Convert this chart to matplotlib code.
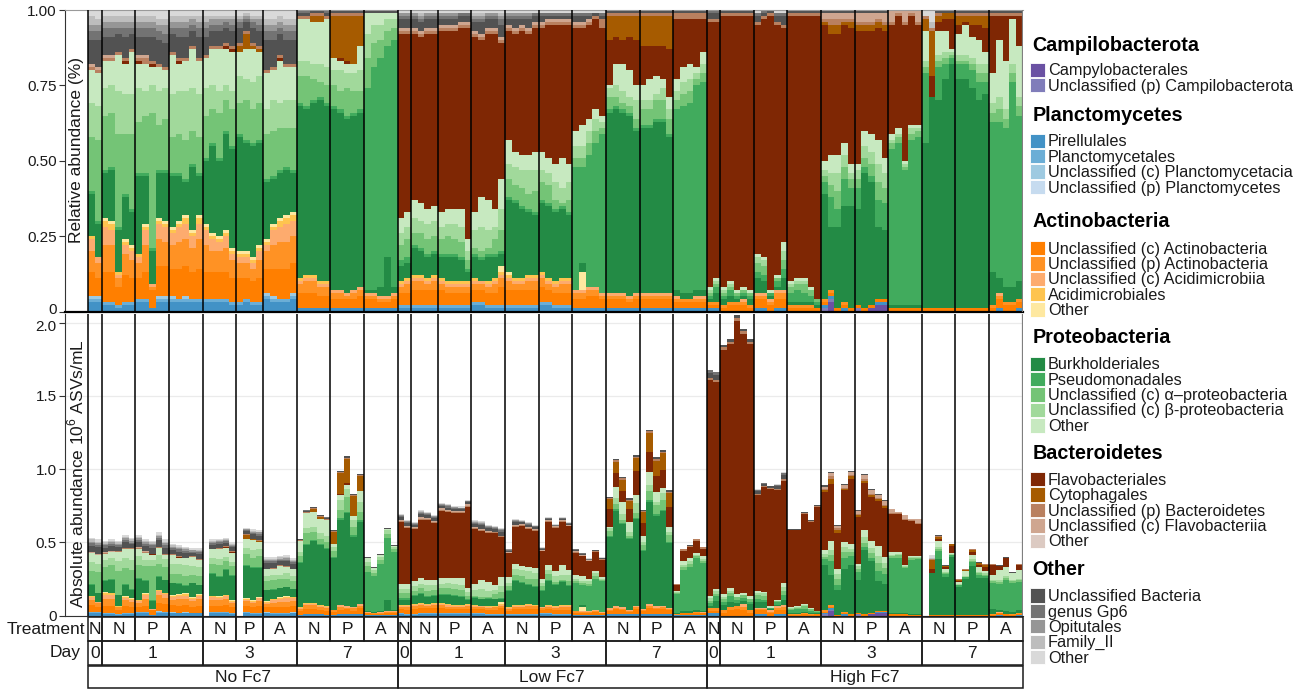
import numpy as np
import matplotlib
matplotlib.use('Agg')
import matplotlib.pyplot as plt
import matplotlib.transforms as mtransforms
from matplotlib.patches import Rectangle

plt.rcParams['font.family'] = ['Liberation Sans', 'DejaVu Sans']
plt.rcParams['mathtext.fontset'] = 'custom'
plt.rcParams['mathtext.rm'] = 'Liberation Sans'

# taxa by phylum, stacking order bottom -> top
phyla = ['Campilobacterota', 'Planctomycetes', 'Actinobacteria',
         'Proteobacteria', 'Bacteroidetes', 'Other']
taxa = [
    ['Campylobacterales', 'Unclassified (p) Campilobacterota'],
    ['Pirellulales', 'Planctomycetales', 'Unclassified (c) Planctomycetacia',
     'Unclassified (p) Planctomycetes'],
    ['Unclassified (c) Actinobacteria', 'Unclassified (p) Actinobacteria',
     'Unclassified (c) Acidimicrobiia', 'Acidimicrobiales', 'Other'],
    ['Burkholderiales', 'Pseudomonadales', 'Unclassified (c) \u03b1\u2013proteobacteria',
     'Unclassified (c) \u03b2-proteobacteria', 'Other'],
    ['Flavobacteriales', 'Cytophagales', 'Unclassified (p) Bacteroidetes',
     'Unclassified (c) Flavobacteriia', 'Other'],
    ['Unclassified Bacteria', 'genus Gp6', 'Opitutales', 'Family_II', 'Other'],
]
colors = [
    ['#6a51a3', '#807dba'],
    ['#4292c6', '#6baed6', '#9ecae1', '#c6dbef'],
    ['#ff7f00', '#ff9224', '#fdab6e', '#fec44f', '#fee8a0'],
    ['#238b45', '#41ab5d', '#74c476', '#a1d99b', '#c7e9c0'],
    ['#7f2704', '#a65b00', '#b9805f', '#cfa690', '#dccac2'],
    ['#525252', '#737373', '#969696', '#bdbdbd', '#d9d9d9'],
]

groups = ['No Fc7', 'Low Fc7', 'High Fc7']
treatments = ['N', 'N', 'P', 'A', 'N', 'P', 'A', 'N', 'P', 'A']
days = ['0', '1', '3', '7']
day_panels = [1, 3, 3, 3]

# relative abundance (%) per sample, columns follow the taxa order above
rel_no = [
    [[0,0,3,1,1,0,8,7,4,1,0,14,1,18,11,11,0,0,1,1,0,8,3,2,3,2],
     [0,0,3,1,1,0,6,5,2,0,0,11,1,27,11,11,0,0,1,1,0,9,3,2,2,3]],
    [[0,0,2,1,0,0,10,9,6,2,1,15,1,18,9,9,0,0,1,1,0,6,3,2,2,2],
     [0,0,2,1,0,0,10,9,5,2,1,17,1,18,9,8,0,0,1,1,0,6,3,2,2,2],
     [0,0,1,1,0,0,6,3,1,1,0,14,1,31,14,12,0,0,1,0,0,6,2,2,2,2],
     [0,0,2,1,0,0,9,7,3,1,1,14,1,20,13,10,1,0,1,0,0,7,3,2,2,2],
     [0,0,2,1,0,0,8,6,3,1,1,11,1,25,13,14,0,0,1,0,0,5,2,2,2,2]],
    [[0,0,3,1,0,0,7,5,2,1,0,26,1,17,11,8,1,0,1,1,0,6,3,2,2,2],
     [0,0,3,1,0,0,9,9,5,1,1,16,1,19,8,9,0,0,2,1,0,6,3,2,2,2],
     [0,0,1,0,0,0,6,1,1,0,0,11,1,45,9,6,1,0,1,0,0,8,3,2,2,2],
     [0,0,3,1,1,0,10,9,5,1,1,15,1,15,11,8,0,0,1,0,0,8,3,2,2,3],
     [0,0,3,1,1,0,10,8,5,1,1,16,1,17,10,6,0,0,1,0,0,8,3,3,2,3]],
    [[0,0,3,1,1,0,9,8,4,1,1,17,1,12,14,13,0,0,1,0,0,6,2,2,2,2],
     [0,0,3,1,0,0,10,9,5,1,1,15,1,13,14,9,1,0,1,0,0,7,3,2,2,2],
     [0,0,3,1,1,0,10,9,5,2,1,11,1,13,16,10,0,0,1,0,0,7,3,2,2,2],
     [0,0,3,1,0,0,9,8,4,1,1,21,1,11,14,13,0,0,1,0,0,5,2,2,1,2],
     [0,0,3,1,0,0,10,10,5,2,1,13,1,12,14,11,0,0,1,0,0,7,3,2,2,2]],
    [[0,0,3,1,0,0,9,9,5,1,1,21,1,14,9,10,0,0,1,0,0,6,3,2,2,2],
     [0,0,3,1,0,0,9,7,4,1,1,29,1,11,8,12,0,0,1,0,0,5,2,2,1,2],
     [0,0,3,1,0,0,9,7,3,1,1,25,1,15,7,14,0,0,1,0,0,5,2,2,1,2],
     [0,0,3,1,0,0,9,8,4,1,1,32,1,10,5,12,1,0,1,0,0,5,2,1,1,2],
     [0,0,2,1,0,0,8,6,2,1,1,33,1,12,6,13,1,0,1,0,0,5,2,2,1,2]],
    [[0,0,2,1,0,0,8,5,2,1,1,38,1,10,9,8,0,2,1,0,0,5,2,1,1,2],
     [0,0,3,1,0,0,7,5,2,1,1,36,1,13,7,10,0,5,1,0,0,3,1,1,1,1],
     [0,0,2,1,0,0,7,4,2,1,1,37,1,11,9,11,0,1,1,0,0,5,2,1,1,2],
     [0,0,2,1,0,0,8,6,3,1,1,34,1,12,9,8,0,1,1,0,0,5,2,2,1,2]],
    [[0,0,4,1,1,0,8,6,2,1,1,19,1,15,8,12,0,0,1,0,0,10,3,2,2,3],
     [0,0,3,1,1,0,9,8,5,1,1,15,1,15,10,10,0,0,1,0,0,9,3,2,2,3],
     [0,0,3,1,0,0,10,9,5,2,1,15,1,14,8,14,1,0,1,0,0,7,2,2,2,2],
     [0,0,3,1,0,0,10,9,6,2,1,15,1,13,9,11,0,0,1,0,0,8,3,2,2,3],
     [0,0,4,1,1,0,10,9,5,2,1,13,1,14,9,11,0,0,1,0,0,8,3,2,2,3]],
    [[0,0,1,0,0,0,5,3,1,1,0,57,1,9,5,14,0,0,1,0,0,1,1,0,0,0],
     [0,0,1,0,0,0,5,4,1,1,0,55,1,10,5,14,0,0,1,0,0,1,1,0,0,0],
     [0,0,1,0,0,0,5,4,1,1,0,57,1,7,5,14,0,2,1,0,0,1,0,0,0,0],
     [0,0,1,0,0,0,4,3,1,1,0,60,1,5,6,14,0,2,1,0,0,1,0,0,0,0],
     [0,0,1,0,0,0,4,3,1,1,0,58,1,6,6,16,0,0,1,0,0,1,1,0,0,0]],
    [[0,0,1,0,0,0,3,2,1,0,0,60,1,7,5,4,0,14,1,0,0,1,0,0,0,0],
     [0,0,1,0,0,0,3,2,1,0,0,59,1,6,7,3,1,14,1,0,0,1,0,0,0,0],
     [0,0,1,0,0,0,3,1,1,0,0,58,1,9,5,3,1,15,1,0,0,1,0,0,0,0],
     [0,0,1,0,0,0,3,2,1,0,0,58,1,7,6,3,0,16,1,0,0,1,0,0,0,0],
     [0,0,1,0,0,0,4,2,1,0,0,58,1,6,7,8,0,10,1,0,0,1,0,0,0,0]],
    [[0,0,1,0,0,0,3,1,1,0,0,1,67,10,8,7,0,0,0,0,0,1,0,0,0,0],
     [0,0,1,0,0,0,3,1,1,0,0,1,74,8,6,4,0,0,0,0,0,1,0,0,0,0],
     [0,0,1,0,0,0,2,1,1,0,0,3,76,6,5,4,0,0,0,0,0,1,0,0,0,0],
     [0,0,1,0,0,0,2,1,1,0,0,13,70,5,4,2,0,0,0,0,0,1,0,0,0,0],
     [0,0,1,0,0,0,3,1,1,0,0,2,82,4,3,2,0,0,0,0,0,1,0,0,0,0]],
]
rel_low = [
    [[0,0,1,1,0,0,4,2,1,1,0,5,2,5,4,5,61,0,1,1,0,3,1,1,0,1],
     [0,0,1,1,0,0,4,3,1,1,0,5,2,6,4,5,59,0,1,1,0,3,1,1,0,1]],
    [[0,0,1,1,0,0,5,3,1,1,0,9,1,4,5,6,55,0,1,1,0,3,1,1,0,1],
     [0,0,1,1,0,0,5,3,1,1,0,8,1,5,4,6,55,0,1,1,0,3,1,1,1,1],
     [0,0,1,1,0,0,5,2,1,1,0,7,1,5,5,5,58,0,1,1,0,3,1,1,0,1],
     [0,0,1,1,0,0,5,3,1,1,0,7,1,5,5,5,57,0,1,1,0,3,1,1,0,1]],
    [[0,0,1,1,0,0,5,2,1,1,0,7,1,5,4,5,60,0,1,1,0,2,1,1,0,1],
     [0,0,1,1,0,0,4,2,1,1,0,8,1,6,4,5,59,0,1,1,0,2,1,1,0,1],
     [0,0,1,1,0,0,4,2,1,1,0,8,1,5,5,5,59,0,1,1,0,2,1,1,0,1],
     [0,0,1,1,0,0,4,2,1,1,0,7,1,5,5,6,60,0,1,1,0,2,1,0,0,1],
     [0,0,1,1,0,0,4,2,1,1,0,3,1,3,3,4,70,0,1,1,0,2,1,0,0,1]],
    [[0,0,2,1,0,0,4,2,1,1,0,7,1,2,6,6,58,0,1,1,0,3,1,1,1,1],
     [0,0,2,1,0,0,4,2,1,0,0,7,1,2,8,10,52,0,1,1,0,4,1,1,1,1],
     [0,0,1,1,0,0,4,2,1,1,0,8,1,2,6,10,55,0,1,1,0,3,1,1,0,1],
     [0,0,1,1,0,0,4,3,1,1,0,7,1,5,4,6,58,0,1,1,0,3,1,1,0,1],
     [0,0,1,1,0,0,6,3,1,1,2,4,1,7,7,10,45,0,1,1,0,4,2,1,1,1]],
    [[0,0,1,1,0,0,5,3,1,1,1,24,1,6,5,8,36,0,1,1,0,2,1,1,0,1],
     [0,0,1,1,0,0,5,2,1,1,0,25,1,5,6,5,39,0,1,1,0,3,1,1,0,1],
     [0,0,1,1,0,0,5,2,1,1,0,23,1,6,6,5,41,0,1,1,0,2,1,1,0,1],
     [0,0,1,1,0,0,5,3,1,1,0,21,1,5,8,5,40,0,1,1,0,3,1,1,0,1],
     [0,0,1,1,0,0,5,3,1,1,0,20,1,7,7,6,41,0,1,1,0,2,1,0,0,1]],
    [[0,0,2,1,0,0,5,3,1,1,0,23,1,6,4,6,41,0,1,1,0,2,1,0,0,1],
     [0,0,2,1,0,0,4,2,1,1,0,24,1,6,4,5,44,0,1,1,0,1,1,0,0,1],
     [0,0,1,1,0,0,4,2,1,1,0,23,1,3,6,6,46,0,1,1,0,1,1,0,0,1],
     [0,0,1,1,0,0,4,3,1,1,0,23,1,1,5,10,44,0,1,1,0,1,1,0,0,1],
     [0,0,1,1,0,0,4,3,1,1,0,21,1,4,6,6,46,0,1,1,0,1,1,0,0,1]],
    [[0,0,1,0,0,0,3,2,1,0,0,0,41,3,4,5,34,0,1,1,0,2,1,0,0,1],
     [0,0,1,0,0,0,3,2,1,0,6,3,32,3,4,7,32,0,1,1,0,2,1,0,0,1],
     [0,0,1,0,0,0,4,2,1,0,0,0,44,4,4,4,31,0,1,1,0,1,1,0,0,1],
     [0,0,1,0,0,0,4,2,1,0,0,0,48,4,4,3,30,0,1,0,0,1,0,0,0,1],
     [0,0,1,0,0,0,3,1,1,0,0,0,53,2,2,2,29,0,3,0,0,1,1,0,0,1]],
    [[0,0,1,0,0,0,3,1,1,0,0,60,1,4,3,1,15,8,1,0,0,1,0,0,0,0],
     [0,0,1,0,0,0,3,1,1,0,0,61,1,3,4,7,9,7,1,0,0,1,0,0,0,0],
     [0,0,1,0,0,0,3,1,1,0,0,60,1,2,4,9,8,8,1,0,0,1,0,0,0,0],
     [0,0,1,0,0,0,2,1,1,0,0,60,1,2,3,9,11,7,1,0,0,1,0,0,0,0],
     [0,0,1,0,0,0,3,1,1,0,0,54,1,3,6,5,15,8,1,0,0,1,0,0,0,0]],
    [[0,0,1,0,0,0,3,1,1,0,0,55,1,5,3,5,13,10,1,0,0,1,0,0,0,0],
     [0,0,1,0,0,0,3,1,1,0,0,55,1,5,3,7,11,10,1,0,0,1,0,0,0,0],
     [0,0,1,0,0,0,3,1,1,0,0,57,1,6,2,6,10,10,1,0,0,1,0,0,0,0],
     [0,0,1,0,0,0,3,1,1,0,0,57,1,6,4,3,11,10,1,0,0,1,0,0,0,0],
     [0,0,1,0,0,0,3,1,1,0,0,52,1,5,3,4,16,11,1,0,0,1,0,0,0,0]],
    [[0,0,1,0,0,0,2,1,1,0,0,2,60,3,3,4,20,0,2,0,0,1,0,0,0,0],
     [0,0,1,0,0,0,2,1,0,0,0,2,62,4,4,5,16,0,2,0,0,1,0,0,0,0],
     [0,0,1,0,0,0,2,1,0,0,0,2,63,4,4,5,15,0,2,0,0,1,0,0,0,0],
     [0,0,1,0,0,0,2,1,1,0,0,2,68,2,2,2,16,0,2,0,0,1,0,0,0,0],
     [0,0,1,0,0,0,2,1,1,0,0,2,69,3,3,4,11,0,2,0,0,1,0,0,0,0]],
]
rel_high = [
    [[0,0,1,0,0,0,1,1,0,0,0,1,1,1,1,1,88,0,1,0,0,2,1,0,0,0],
     [0,0,1,0,0,0,1,1,0,0,0,3,2,1,1,1,85,0,1,0,0,2,1,0,0,0]],
    [[0,0,0,0,0,0,1,1,0,0,0,2,1,1,1,1,90,0,1,0,0,1,0,0,0,0],
     [0,0,0,0,0,0,2,1,0,0,0,2,2,1,1,1,88,0,1,0,0,1,0,0,0,0],
     [0,0,0,0,0,0,2,1,0,0,0,1,1,1,0,1,91,0,1,0,0,1,0,0,0,0],
     [0,0,0,0,0,0,2,1,1,0,0,1,1,1,0,1,90,0,1,0,0,1,0,0,0,0],
     [0,0,0,0,0,0,1,1,0,0,0,2,1,1,0,1,91,0,1,0,0,1,0,0,0,0]],
    [[0,0,1,0,0,0,3,1,1,0,0,5,2,3,2,1,76,0,1,0,0,2,1,0,0,1],
     [0,0,1,0,0,0,3,1,1,0,0,4,2,3,2,1,79,0,1,0,0,1,1,0,0,0],
     [0,0,0,0,0,0,2,1,1,0,0,1,1,0,0,1,91,0,1,0,0,1,0,0,0,0],
     [0,0,1,0,0,0,3,2,1,0,0,1,2,1,0,1,83,0,1,0,0,2,1,0,0,1],
     [0,0,1,0,0,0,3,2,1,0,0,4,3,3,3,3,71,0,1,0,0,3,1,0,0,1]],
    [[0,0,0,0,0,0,1,1,0,0,0,1,3,2,1,1,88,0,1,0,0,1,0,0,0,0],
     [0,0,0,0,0,0,1,1,0,0,0,1,4,2,1,1,87,0,1,0,0,1,0,0,0,0],
     [0,0,0,0,0,0,1,1,0,0,0,1,3,3,1,1,87,0,1,0,0,1,0,0,0,0],
     [0,0,0,0,0,0,1,1,0,0,0,1,2,2,0,1,90,0,1,0,0,1,0,0,0,0],
     [0,0,0,0,0,0,1,0,0,0,0,1,1,1,0,0,94,0,1,0,0,1,0,0,0,0]],
    [[0,1,1,0,0,0,1,1,0,0,0,35,4,2,2,3,45,1,1,2,0,1,0,0,0,0],
     [3,1,1,0,0,0,1,1,0,0,0,21,10,4,4,6,40,3,2,2,0,1,0,0,0,0],
     [0,0,0,0,0,0,1,0,0,0,0,27,6,6,6,6,40,3,2,2,0,1,0,0,0,0],
     [0,0,1,0,0,0,1,1,0,0,0,32,9,4,4,4,39,1,1,2,0,1,0,0,0,0],
     [0,0,0,0,0,0,1,0,0,0,0,34,6,3,2,3,45,2,1,2,0,1,0,0,0,0]],
    [[0,1,0,0,0,0,1,0,0,0,0,32,7,3,3,2,44,2,1,3,0,1,0,0,0,0],
     [0,0,0,0,0,0,1,0,0,0,0,45,2,3,4,5,33,2,1,3,0,1,0,0,0,0],
     [1,0,0,0,0,0,1,0,0,0,0,41,2,4,4,6,34,2,1,3,0,1,0,0,0,0],
     [2,0,1,0,0,0,1,0,0,0,0,24,9,6,6,8,37,2,1,2,0,1,0,0,0,0],
     [2,0,1,0,0,0,1,0,0,0,0,23,9,5,5,5,42,2,1,3,0,1,0,0,0,0]],
    [[0,0,0,0,0,0,1,0,0,0,0,1,52,2,1,2,36,0,1,4,0,0,0,0,0,0],
     [0,0,0,0,0,0,1,0,0,0,0,1,54,2,1,2,37,0,1,1,0,0,0,0,0,0],
     [0,0,0,0,0,0,1,0,0,0,0,1,45,1,1,1,45,0,1,4,0,0,0,0,0,0],
     [0,0,0,0,0,0,1,0,0,0,0,1,55,2,2,1,36,0,1,1,0,0,0,0,0,0],
     [0,0,0,0,0,0,1,0,0,0,0,1,56,2,1,1,33,0,1,4,0,0,0,0,0,0]],
    [[0,0,0,0,0,0,1,0,0,0,0,55,23,2,2,10,0,4,1,0,0,0,0,0,0,2],
     [0,0,0,0,0,0,1,0,0,0,0,70,0,0,0,0,7,15,1,0,0,0,0,0,2,4],
     [0,0,0,0,0,0,1,0,0,0,0,69,11,2,2,8,3,2,1,0,0,1,0,0,0,0],
     [0,0,0,0,0,0,1,0,0,0,0,76,5,2,2,7,4,2,0,0,0,1,0,0,0,0],
     [0,0,0,0,0,0,1,0,0,0,0,81,2,1,1,1,10,2,0,0,0,1,0,0,0,0]],
    [[0,0,0,0,0,0,1,0,0,0,0,76,5,1,2,7,3,3,1,0,0,1,0,0,0,0],
     [0,0,0,0,0,0,1,0,0,0,0,76,5,1,2,10,1,2,1,0,0,1,0,0,0,0],
     [0,0,0,0,0,0,1,0,0,0,0,73,6,2,2,7,4,3,1,0,0,1,0,0,0,0],
     [0,0,0,0,0,0,1,0,0,0,0,69,6,3,3,8,5,3,1,0,0,1,0,0,0,0],
     [0,0,0,0,0,0,1,0,0,0,0,71,4,3,3,4,8,4,1,0,0,1,0,0,0,0]],
    [[0,0,0,0,0,0,1,1,0,0,0,11,50,3,3,10,19,0,1,0,0,1,0,0,0,0],
     [0,0,1,0,0,0,3,1,1,0,0,5,52,4,4,19,8,0,1,0,0,1,0,0,0,0],
     [0,0,0,0,0,0,2,1,0,0,0,5,53,3,3,16,15,0,1,0,0,1,0,0,0,0],
     [0,0,0,0,0,0,2,1,0,0,0,5,68,3,3,15,1,0,1,0,0,1,0,0,0,0],
     [0,0,1,0,0,0,2,1,0,0,0,6,55,3,3,17,10,0,1,0,0,1,0,0,0,0]],
]

# total abundance, 10^6 ASVs/mL (nan = not quantified)
nan = np.nan
tot_no = [[0.53, 0.52], [0.51, 0.52, 0.51, 0.55, 0.53], [0.55, 0.52, 0.51, 0.57, 0.52],
          [0.49, 0.48, 0.47, 0.46, 0.46], [nan, 0.52, 0.525, 0.53, 0.50],
          [nan, 0.60, 0.59, 0.585], [0.40, 0.40, 0.405, 0.41, 0.39],
          [0.525, 0.72, 0.74, 0.685, 0.67], [0.585, 0.99, 1.09, 0.83, 0.97],
          [0.40, 0.33, 0.42, 0.60, 0.48]]
tot_low = [[0.695, 0.65], [0.64, 0.72, 0.71, 0.685], [0.77, 0.76, 0.75, 0.745, 0.79],
           [0.65, 0.645, 0.615, 0.61, 0.60], [0.456, 0.66, 0.655, 0.64, 0.615],
           [0.467, 0.67, 0.627, 0.67, 0.64], [0.456, 0.43, 0.39, 0.45, 0.40],
           [0.81, 1.07, 0.946, 0.80, 1.095], [0.72, 1.27, 1.08, 1.13, 0.855],
           [0.217, 0.456, 0.48, 0.525, 0.47]]
tot_high = [[1.676, 1.66], [1.85, 1.89, 2.05, 1.96, 1.89], [0.867, 0.905, 0.883, 0.90, 0.98],
            [0.593, 0.593, 0.707, 0.65, 0.753], [0.89, 0.98, 0.616, 0.90, 0.99],
            [0.72, 0.97, 0.867, 0.83, 0.787], [0.73, 0.707, 0.684, 0.66, 0.66],
            [nan, 0.41, 0.547, 0.342, 0.49], [0.25, 0.32, 0.456, 0.365, 0.354],
            [0.354, 0.342, 0.40, 0.296, 0.354]]

# flatten panels into one sample axis
rel_rows, totals, counts = [], [], []
for rel_g, tot_g in [(rel_no, tot_no), (rel_low, tot_low), (rel_high, tot_high)]:
    for rp, tp in zip(rel_g, tot_g):
        rel_rows += rp
        totals += tp
        counts.append(len(rp))
rel = np.array(rel_rows, dtype=float)
rel = rel / rel.sum(axis=1, keepdims=True)
totals = np.array(totals)
absval = rel * np.nan_to_num(totals)[:, None]
flat_colors = [c for cs in colors for c in cs]
n = len(rel)
x = np.arange(n)
edges = np.concatenate([[0], np.cumsum(counts)])

# layout in pixels
W, H = 1306, 689
fig = plt.figure(figsize=(W / 100, H / 100), dpi=100)


def px_axes(x0, y0, x1, y1):
    return fig.add_axes([x0 / W, 1 - y1 / H, (x1 - x0) / W, (y1 - y0) / H])


X_AXIS, X_PANEL, X_RIGHT = 65.0, 88.3, 1022.7
x_lo = -(X_PANEL - X_AXIS) / ((X_RIGHT - X_PANEL) / n)

ax_rel = px_axes(X_AXIS, 10, X_RIGHT, 311.5)
ax_abs = px_axes(X_AXIS, 313.5, X_RIGHT, 615.5)


def stack(ax, vals):
    bottom = np.zeros(n)
    for j, col in enumerate(flat_colors):
        ax.bar(x, vals[:, j], bottom=bottom, width=1.0, align='edge',
               color=col, linewidth=0, antialiased=False, zorder=2)
        bottom += vals[:, j]


stack(ax_rel, rel)
stack(ax_abs, absval)

for ax in (ax_rel, ax_abs):
    ax.set_xlim(x_lo, n)
    ax.set_xticks([])
    for e in edges[:-1]:
        ax.axvline(e, color='black', lw=1.1, zorder=4)
    ax.axvline(n, color='#7f7f7f', lw=1.6, zorder=4)
    ax.spines['right'].set_visible(False)
    ax.spines['left'].set_color('#333333')
    ax.tick_params(axis='y', length=4, width=0.8, color='#333333',
                   labelsize=11, labelcolor='#1a1a1a', pad=2)

ax_rel.set_ylim(0, 1.0)
ax_rel.set_yticks([0, 0.25, 0.5, 0.75, 1.0])
ax_rel.set_yticklabels(['0', '0.25', '0.50', '0.75', '1.00'])
ax_rel.spines['top'].set_color('#9a9a9a')
ax_rel.spines['top'].set_linewidth(0.8)
ax_rel.spines['bottom'].set_linewidth(1.6)
ax_rel.spines['bottom'].set_color('black')

ax_abs.set_ylim(0, 2.063)
ax_abs.set_yticks([0, 0.5, 1.0, 1.5, 2.0])
ax_abs.set_yticklabels(['0', '0.5', '1.0', '1.5', '2.0'])
ax_abs.spines['top'].set_visible(False)
ax_abs.spines['bottom'].set_color('#333333')
ax_abs.yaxis.grid(True, color='#ebebeb', lw=0.9, zorder=0)
ax_abs.set_axisbelow(True)

# nudge the two labels that meet at the panel join apart
up = mtransforms.ScaledTranslation(0, 3 / 100, fig.dpi_scale_trans)
down = mtransforms.ScaledTranslation(0, -3 / 100, fig.dpi_scale_trans)
lab0 = ax_rel.get_yticklabels()[0]
lab0.set_transform(lab0.get_transform() + up)
lab2 = ax_abs.get_yticklabels()[-1]
lab2.set_transform(lab2.get_transform() + down)

fig.text(76 / W, 1 - 150 / H, 'Relative abundance (%)', rotation=90,
         ha='center', va='center', fontsize=12.5, color='#1a1a1a')
fig.text(76 / W, 1 - 474 / H, r'Absolute abundance 10$^{6}$ ASVs/mL', rotation=90,
         ha='center', va='center', fontsize=12.5, color='#1a1a1a')

# facet strips under the bars
ax_s = px_axes(X_AXIS, 616, X_RIGHT, 689)
ax_s.set_xlim(x_lo, n)
ax_s.set_ylim(689, 616)
ax_s.axis('off')
rows = [(616.5, 640.5), (640.5, 664.5), (665.5, 688.3)]


def strip_box(x0, x1, row, label):
    y0, y1 = rows[row]
    ax_s.add_patch(Rectangle((x0, y0), x1 - x0, y1 - y0, fill=False,
                             edgecolor='#1a1a1a', lw=1.1, clip_on=False))
    ax_s.text((x0 + x1) / 2, (y0 + y1) / 2 + 0.5, label, ha='center', va='center',
              fontsize=12.5, color='#1a1a1a')


p = 0
for g, grp in enumerate(groups):
    g_start = edges[p]
    for d, dname in enumerate(days):
        d_start = edges[p]
        for k in range(day_panels[d]):
            strip_box(edges[p], edges[p + 1], 0, treatments[p % 10])
            p += 1
        strip_box(d_start, edges[p], 1, dname)
    strip_box(g_start, edges[p], 2, grp)

fig.text(85 / W, 1 - 630 / H, 'Treatment', ha='right', va='center', fontsize=12.5,
         color='#1a1a1a')
fig.text(81 / W, 1 - 652 / H, 'Day', ha='right', va='center', fontsize=12.5,
         color='#1a1a1a')

# legend, one block per phylum
ax_l = px_axes(1024, 0, W, H)
ax_l.set_xlim(1024, W)
ax_l.set_ylim(H, 0)
ax_l.axis('off')
title_base = [50.7, 120.7, 227.3, 343.3, 459.3, 575.0]
first_key = [69.7, 140.8, 248.0, 363.7, 479.2, 595.5]
step = 15.4
for i, ph in enumerate(phyla):
    ax_l.text(1032.5, title_base[i], ph, fontsize=14.2, fontweight='bold',
              ha='left', va='baseline', color='black')
    for k, (name, col) in enumerate(zip(taxa[i], colors[i])):
        yc = first_key[i] + k * step
        ax_l.add_patch(Rectangle((1030, yc - 7.2), 14.5, 14.4, facecolor=col,
                                 edgecolor='white', lw=0.6))
        ax_l.text(1048, yc + 5.6, name, fontsize=11.7, ha='left', va='baseline',
                  color='#1a1a1a')

fig.savefig('out.png', dpi=100)
